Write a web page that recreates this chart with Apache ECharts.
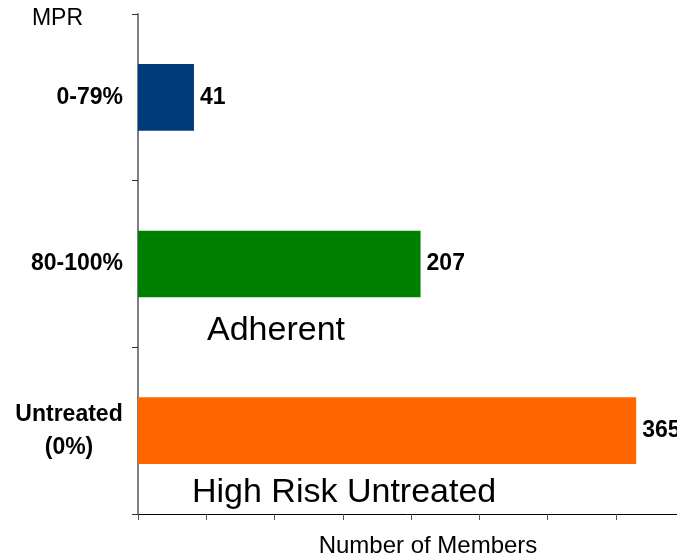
<!DOCTYPE html>
<html>
<head>
<meta charset="utf-8">
<script src="https://cdn.jsdelivr.net/npm/echarts@6/dist/echarts.min.js"></script>
<style>
  html, body { margin: 0; padding: 0; background: #fff; overflow: hidden; }
  #chart { width: 677px; height: 557px; }
</style>
</head>
<body>
<div id="chart"></div>
<script>
// Adherence groups (top to bottom) and member counts
const categories = ['0-79%', '80-100%', 'Untreated\n(0%)'];
const members = [41, 207, 365];
const barColors = ['#003B7B', '#008000', '#FF6600'];
const groupNotes = ['Adherent', 'High Risk Untreated'];

const FONT = '"Liberation Sans", Arial, Helvetica, sans-serif';

const chart = echarts.init(document.getElementById('chart'), null, { renderer: 'canvas' });

chart.setOption({
  backgroundColor: '#ffffff',
  animation: false,
  textStyle: { fontFamily: FONT },
  grid: {
    left: 138, top: 14, bottom: 43, width: 546,
    containLabel: false,
    outerBoundsMode: 'none'
  },
  xAxis: {
    type: 'value',
    min: 0,
    max: 400,
    interval: 50,
    name: 'Number of Members',
    nameLocation: 'middle',
    nameGap: 20,
    nameTextStyle: { fontFamily: FONT, fontSize: 24, color: '#000', padding: [0, 0, 0, 34] },
    axisLine: { show: true, lineStyle: { color: '#000', width: 1 } },
    axisTick: { show: true, length: 6, lineStyle: { color: '#555' } },
    axisLabel: { show: false },
    splitLine: { show: false }
  },
  yAxis: {
    type: 'category',
    inverse: true,
    data: categories,
    name: 'MPR',
    nameLocation: 'start',
    nameGap: -5,
    nameTextStyle: {
      fontFamily: FONT, fontSize: 23, color: '#000',
      align: 'right', verticalAlign: 'middle', padding: [0, 55, 0, 0]
    },
    axisLine: { show: true, lineStyle: { color: '#808080', width: 2 } },
    axisTick: { show: true, length: 6, lineStyle: { color: '#333' } },
    axisLabel: {
      margin: 15,
      color: '#000',
      fontFamily: FONT,
      fontSize: 23,
      fontWeight: 'bold',
      formatter: function (v) {
        if (v.indexOf('\n') < 0) return v;
        return v.split('\n').map(function (s) { return '{c|' + s + '}'; }).join('\n');
      },
      rich: {
        c: {
          width: 108, align: 'center', lineHeight: 33,
          fontFamily: FONT, fontSize: 23, fontWeight: 'bold', color: '#000'
        }
      }
    },
    splitLine: { show: false }
  },
  series: [{
    type: 'bar',
    barWidth: '40%',
    data: members.map(function (v, i) {
      return { value: v, itemStyle: { color: barColors[i] } };
    }),
    label: {
      show: true,
      position: 'right',
      distance: 6,
      color: '#000',
      fontFamily: FONT,
      fontSize: 23,
      fontWeight: 'bold'
    }
  }],
  graphic: [
    {
      type: 'text', left: 207, top: 314, z: 10,
      style: { text: groupNotes[0], font: '34px ' + FONT, fill: '#000' }
    },
    {
      type: 'text', left: 192, top: 476, z: 10,
      style: { text: groupNotes[1], font: '34px ' + FONT, fill: '#000' }
    }
  ]
});
</script>
</body>
</html>
